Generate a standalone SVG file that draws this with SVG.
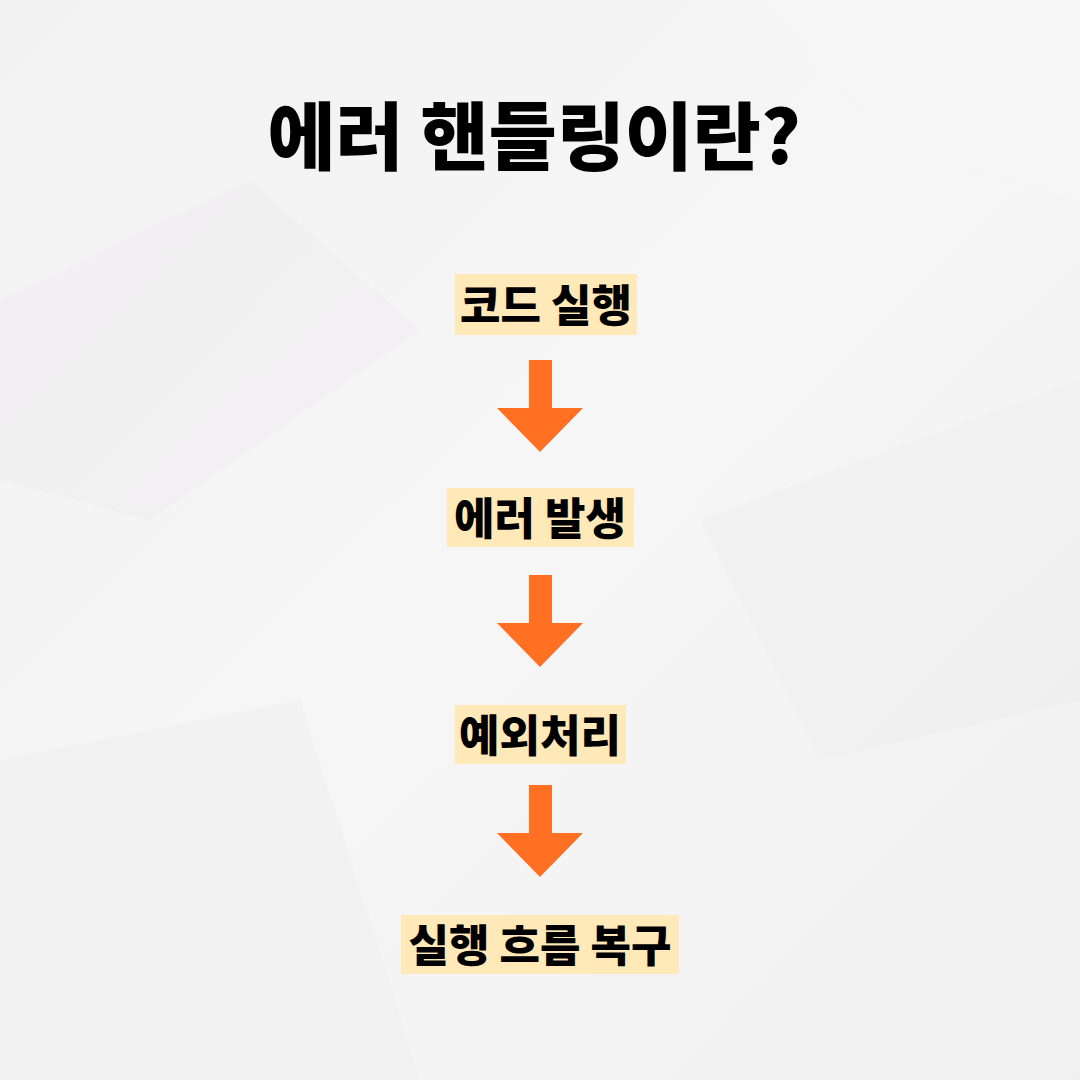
<svg xmlns="http://www.w3.org/2000/svg" width="1080" height="1080" viewBox="0 0 1080 1080">
<defs>
<linearGradient id="bg" x1="0" y1="0" x2="1" y2="1">
<stop offset="0" stop-color="#f3f2f3"/>
<stop offset="0.5" stop-color="#f7f6f7"/>
<stop offset="1" stop-color="#f1f0f1"/>
</linearGradient>
<polygon id="arrow" points="529,0 552,0 552,48 583,48 540,92 497,48 529,48"/>
</defs>
<style>
.title{font-family:"Noto Sans CJK KR","Noto Sans CJK SC",sans-serif;font-weight:900;font-size:74px;fill:#000;text-anchor:middle}
.lbl{font-family:"Noto Sans CJK KR","Noto Sans CJK SC",sans-serif;font-weight:900;font-size:44px;fill:#000;text-anchor:middle}
.hl{fill:#ffe9b8}
.arr{fill:#ff7023}
</style>
<rect width="1080" height="1080" fill="url(#bg)"/>
<g opacity="0.35">
<polygon points="0,300 250,180 420,330 150,520 0,480" fill="#eae9ea"/>
<polygon points="700,520 1080,380 1080,700 820,760" fill="#ebeaeb"/>
<polygon points="0,760 300,700 420,1080 0,1080" fill="#ecebec"/>
<polygon points="760,0 1080,0 1080,200 900,150" fill="#fafafa"/>
</g>
<g id="title"><text class="title" x="534" y="164">에러 핸들링이란?</text></g>
<g id="connectors">
<use href="#arrow" class="arr" transform="translate(0,360)"/>
<use href="#arrow" class="arr" transform="translate(0,575)"/>
<use href="#arrow" class="arr" transform="translate(0,785)"/>
</g>
<g id="n1"><rect class="hl" x="455" y="274" width="182" height="61"/><text class="lbl" x="546" y="322">코드 실행</text></g>
<g id="n2"><rect class="hl" x="447" y="488" width="187" height="59"/><text class="lbl" x="540" y="535">에러 발생</text></g>
<g id="n3"><rect class="hl" x="455" y="705" width="171" height="59"/><text class="lbl" x="540" y="752">예외처리</text></g>
<g id="n4"><rect class="hl" x="401" y="915" width="278" height="59"/><text class="lbl" x="540" y="962">실행 흐름 복구</text></g>
</svg>
